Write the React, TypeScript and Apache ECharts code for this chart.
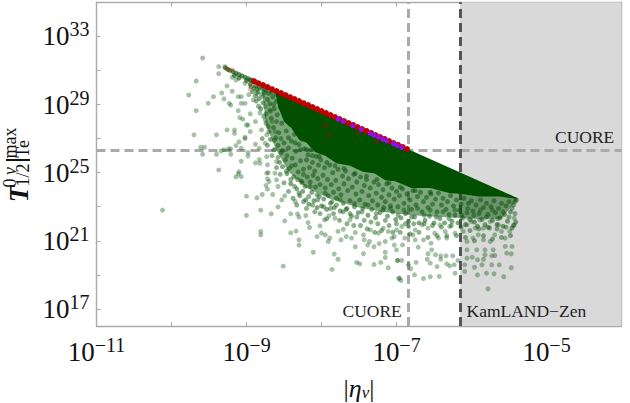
import React, { useEffect, useRef } from "react";
import * as echarts from "echarts";

const xTicks = [-11, -10, -9, -8, -7, -6, -5, -4];
const xLabels = [-11, -9, -7, -5];
const yTicks = [17, 19, 21, 23, 25, 27, 29, 31, 33, 35];
const yLabels = [17, 21, 25, 29, 33];
const cuoreEta = -6.853;
const kamlandEta = -6.153;
const cuoreHalfLife = 26.32;

const sparseDots = [
[-9.585,31.73],[-9.37,31.22],[-9.29,31.22],[-9.37,30.81],[-9.67,30.38],[-9.77,29.56],[-9.44,29.46],[-9.33,29.68],[-9.26,30.09],[-9.19,29.78],[-9.30,29.33],[-9.51,29.07],[-9.67,28.64],[-9.11,29.46],[-9.07,29.46],[-8.97,29.58],[-9.23,29.07],[-9.21,28.96],[-9.07,29.07],[-9.02,29.07],[-9.11,28.64],[-8.95,28.45],[-9.09,28.23],[-9.05,28.14],[-8.88,28.0],[-9.0,27.8],[-8.98,27.8],[-9.26,27.51],[-9.16,27.51],[-9.16,27.31],[-9.70,27.22],[-9.40,27.22],[-8.95,27.41],[-9.02,27.08],[-9.02,27.0],[-9.10,26.81],[-9.14,26.59],[-9.56,26.49],[-9.61,26.49],[-9.07,26.43],[-8.88,26.67],[-8.83,26.43],[-9.30,26.34],[-9.24,26.40],[-9.21,26.40],[-9.34,26.28],[-9.585,26.08],[-9.40,26.08],[-9.21,26.08],[-8.98,26.18],[-8.98,25.98],[-9.07,25.67],[-8.83,25.77],[-8.88,25.57],[-8.82,25.55],[-8.72,25.46],[-9.37,25.16],[-9.10,25.05],[-9.11,24.93],[-9.14,24.75],[-9.07,24.77],[-8.73,24.97],
[-9.14,30.44],[-9.19,30.6],[-9.02,30.25],[-8.95,30.44],[-8.82,30.05],[-8.86,29.66],[-8.78,29.46],[-8.91,29.27],[-8.75,28.88],[-8.82,28.5],[-8.69,28.68],[-8.75,28.1],[-8.66,28.0],[-8.80,27.51],[-8.73,27.22],[-8.62,27.41],[-8.75,26.73],[-8.64,26.34],[-8.73,25.94],[-8.60,25.65],
[-10.12,22.80],[-9.0,23.62],[-8.86,23.52],[-8.79,23.72],[-8.65,23.72],[-8.81,22.80],[-8.67,22.58],[-8.58,22.99],[-9.0,22.49],[-8.81,21.55],[-8.81,21.35],[-8.74,24.25],[-8.72,24.03],[-8.58,24.19],[-8.70,24.48],[-8.72,24.64],[-8.60,24.58],[-8.71,25.0],[-8.62,24.97],
[-8.51,19.51],[-8.53,23.40],[-8.49,23.64],[-8.49,22.17],[-8.41,22.58],[-8.32,22.58],[-8.30,22.39],[-8.21,22.48],[-8.35,23.31],[-8.18,22.07],[-8.16,21.78],[-8.41,21.47],[-8.34,21.57],[-8.30,21.06],[-8.30,20.75],[-8.11,20.33],[-8.06,21.25],[-8.02,21.88],[-8.0,21.45],[-7.95,21.35],[-7.96,22.23],[-7.89,21.16],[-7.91,20.96],[-7.90,22.47],[-7.83,20.22],[-7.78,19.92],[-7.86,19.32],[-7.78,21.55],[-7.74,21.06],[-7.67,21.25],[-7.60,21.16],[-7.55,20.65],[-7.44,20.24],[-7.53,19.73],[-7.49,19.65],[-7.30,19.61],[-7.21,19.73],[-7.11,19.42],[-7.15,20.02],[-7.15,20.33],[-7.30,20.65],[-7.385,20.75],[-7.43,21.06],[-7.36,20.96],[-7.23,20.84],[-7.15,20.96],[-7.03,20.75],[-6.99,19.85],[-6.96,18.81],[-7.03,21.25],[-7.11,21.55],[-7.24,21.45],[-7.44,21.35],[-7.55,21.49],[-7.62,22.23],[-7.71,21.68],[-7.82,22.33],[-7.35,21.64],[-7.176,21.74],[-7.0,21.64],[-7.06,21.16],
[-5.78,18.18],[-5.57,18.89],[-5.47,19.42],[-5.70,19.06],[-5.80,19.10],[-5.92,19.0],[-6.09,19.2],[-6.22,19.1],[-6.43,18.91],[-6.55,18.89],[-6.64,18.79],[-6.76,19.0],[-6.97,18.79],[-6.94,18.67],[-6.81,19.36],[-6.84,19.59],[-6.74,19.73],[-6.93,19.85],[-6.98,19.85],[-6.46,19.49],[-6.33,19.65],[-6.29,19.53],[-6.23,19.59],[-6.59,19.92],[-6.55,19.69],[-6.48,20.18],[-6.41,20.12],[-6.34,20.12],[-6.25,20.12],[-6.41,19.92],[-6.18,19.85],[-6.09,19.59],[-5.96,19.45],[-5.86,19.59],[-5.73,19.59],[-5.63,19.59],[-6.06,19.98],[-5.99,20.04],[-5.92,19.89],[-5.84,19.92],[-5.69,20.14],[-5.73,20.12],[-5.82,20.18],[-6.06,20.47],[-5.53,20.28],[-5.47,20.24],[-5.46,20.67],[-5.55,20.67],[-5.71,20.47],[-5.82,20.47],[-5.93,20.47],[-6.53,20.47],[-6.58,20.24],[-6.71,20.63],[-6.92,20.76],[-7.0,20.47],[-6.44,21.16],[-6.33,21.16],[-6.54,20.86],[-6.64,21.06],[-6.75,21.06],[-6.78,21.35],[-6.89,21.16],
[-5.43,22.33],[-5.43,21.94],[-5.49,21.55],[-5.55,21.16],[-5.6,21.55],[-5.64,21.94],[-5.69,21.35],[-5.75,20.96],[-5.84,21.06],[-5.91,21.35],[-5.95,21.74],[-5.84,21.74],[-5.75,22.13],[-5.89,22.23],[-6.0,22.13],[-5.98,21.16],[-6.06,20.96],[-6.11,21.55],[-6.06,21.94],[-6.22,21.45],[-6.29,21.84],[-6.35,21.55],[-6.42,21.94],[-6.49,21.45],[-6.58,21.74],[-6.66,21.94],[-6.75,21.64],[-6.84,21.84],[-6.93,21.84],
];

const bandDots = [
[-8.87,29.2],[-8.84,28.9],[-8.80,29.6],[-8.77,28.3],[-8.74,27.9],[-8.79,27.0],[-8.70,27.4],[-8.68,28.6],[-8.72,26.6],[-8.66,26.0],[-8.63,26.9],[-8.60,25.3],[-8.58,25.9],[-8.55,24.9],[-8.52,26.3],[-8.50,24.4],[-8.47,25.1],[-8.44,23.9],[-8.41,24.6],[-8.38,23.5],[-8.36,24.2],[-8.33,23.1],[-8.30,23.8],[-8.26,24.4],[-8.24,23.3],[-8.20,22.9],[-8.17,23.6],[-8.12,23.1],[-8.09,22.7],[-8.05,23.4],[-8.02,22.6],[-7.97,23.0],[-7.93,22.3],[-7.88,22.9],[-7.84,22.6],[-7.80,23.1],[-7.76,22.2],[-7.71,22.7],[-7.66,22.0],[-7.62,22.6],[-7.57,21.9],[-7.53,22.4],[-7.48,21.9],[-7.43,22.2],[-7.39,21.7],[-7.34,22.1],[-7.29,21.5],[-7.25,22.0],[-7.20,21.6],[-7.15,22.2],[-7.10,21.9],[-7.05,21.5],[-7.0,22.0],
[-6.95,21.5],[-6.88,22.0],[-6.82,21.4],[-6.77,22.0],[-6.70,21.5],[-6.63,22.0],[-6.58,21.2],[-6.52,21.9],[-6.46,21.3],[-6.40,21.8],[-6.33,21.3],[-6.27,21.9],[-6.20,21.3],[-6.14,21.8],[-6.08,21.2],[-6.02,21.6],[-5.96,21.0],[-5.9,21.7],[-5.84,21.3],[-5.78,21.8],[-5.72,21.1],[-5.66,21.7],[-5.60,21.2],[-5.54,21.8],[-5.48,21.3],[-5.44,21.9],
[-5.42,22.6],[-5.46,22.9],[-5.5,22.4],[-5.58,22.7],[-5.65,22.3],[-5.72,22.8],[-5.8,22.4],[-5.88,22.8],[-5.97,22.5],[-6.05,22.9],[-6.13,22.5],[-6.22,22.8],[-6.3,22.3],[-6.38,22.7],[-6.47,22.4],[-6.55,22.8],[-6.63,22.5],[-6.72,22.9],[-6.8,22.4],[-6.9,22.8],[-6.98,22.5],[-7.08,22.9],[-7.18,22.8],[-7.27,22.6],[-7.38,23.1],[-7.46,22.7],[-7.56,23.2],[-7.66,22.9],[-7.75,23.4],[-7.86,23.3],[-7.95,23.8],[-8.06,23.7],[-8.15,24.2],[-8.24,24.9],[-8.32,24.6],[-8.40,25.4],[-8.46,26.0],[-8.54,27.0],[-8.6,28.0],[-8.64,29.0],
];

const cloudDots = [
[-8.86,29.9],[-8.83,29.35],[-8.81,28.75],[-8.78,29.1],[-8.76,29.7],[-8.74,28.45],[-8.72,29.3],[-8.71,27.7],[-8.69,29.05],[-8.68,26.95],[-8.67,28.2],[-8.65,29.45],[-8.64,27.65],[-8.63,28.75],[-8.62,26.35],[-8.61,27.05],[-8.6,29.2],[-8.59,28.4],[-8.58,26.6],[-8.57,27.35],[-8.56,25.6],[-8.55,28.85],[-8.54,26.15],[-8.53,27.9],[-8.52,25.35],[-8.51,29.1],[-8.5,26.75],[-8.49,28.35],[-8.48,25.75],[-8.47,27.45],[-8.46,24.95],[-8.45,28.9],[-8.44,26.45],[-8.43,25.25],[-8.42,27.85],[-8.41,24.35],[-8.4,26.85],[-8.39,25.85],[-8.38,28.2],[-8.37,24.75],[-8.36,27.25],[-8.35,25.45],[-8.34,26.25],[-8.33,24.05],[-8.32,27.75],[-8.31,25.05],[-8.3,26.65],[-8.29,23.65],[-8.28,25.7],[-8.27,24.5],[-8.26,26.95],[-8.25,23.9],[-8.24,25.2],[-8.23,26.4],[-8.22,24.2],[-8.21,23.4],[-8.2,25.75],[-8.19,24.75],[-8.18,26.05],[-8.17,23.15],[-8.16,25.3],[-8.15,24.45],[-8.14,26.35],[-8.13,23.85],[-8.12,25.6],[-8.11,24.85],[-8.1,23.35],[-8.09,25.1],[-8.08,24.15],[-8.07,25.95],[-8.06,22.95],[-8.05,24.65],[-8.04,25.45],[-8.03,23.6],[-8.02,24.3],[-8.01,25.75],[-8.0,23.05],
[-7.98,24.85],[-7.97,23.45],[-7.96,25.3],[-7.95,24.1],[-7.93,22.85],[-7.92,24.6],[-7.91,23.65],[-7.89,25.45],[-7.88,23.2],[-7.87,24.3],[-7.85,25.0],[-7.84,23.85],[-7.83,22.95],[-7.81,24.55],[-7.8,23.5],[-7.78,25.2],[-7.77,24.05],[-7.75,22.75],[-7.74,23.7],[-7.72,24.8],[-7.71,23.2],[-7.7,24.35],[-7.68,25.1],[-7.67,22.85],[-7.65,23.95],[-7.64,24.65],[-7.62,23.35],[-7.6,22.45],[-7.59,24.15],[-7.57,24.9],[-7.56,23.0],[-7.54,23.75],[-7.53,24.45],[-7.51,22.65],[-7.49,23.4],[-7.48,24.75],[-7.46,23.9],[-7.45,22.9],[-7.43,24.25],[-7.42,23.15],[-7.4,24.6],[-7.38,22.5],[-7.37,23.65],[-7.35,24.1],[-7.33,22.85],[-7.32,23.35],[-7.3,24.45],[-7.28,22.35],[-7.27,23.8],[-7.25,23.1],[-7.24,24.3],[-7.22,22.65],[-7.2,23.55],[-7.18,24.0],[-7.17,22.95],[-7.15,23.3],[-7.13,24.35],[-7.12,22.45],[-7.1,23.7],[-7.08,23.05],[-7.06,24.1],[-7.05,22.7],[-7.03,23.45],[-7.01,22.25],[-7.0,23.9],
[-6.98,23.0],[-6.96,23.65],[-6.94,22.35],[-6.92,24.05],[-6.9,23.2],[-6.88,22.6],[-6.86,23.75],[-6.84,22.15],[-6.82,23.4],[-6.8,22.85],[-6.78,23.95],[-6.76,22.4],[-6.74,23.1],[-6.72,23.6],[-6.7,22.05],[-6.68,23.85],[-6.66,22.7],[-6.64,23.3],[-6.62,22.2],[-6.6,23.55],[-6.58,22.95],[-6.56,22.45],[-6.54,23.75],[-6.52,23.15],[-6.5,22.05],[-6.48,23.45],[-6.46,22.7],[-6.44,23.8],[-6.42,22.3],[-6.4,23.1],[-6.38,23.5],[-6.36,22.05],[-6.34,22.85],[-6.32,23.3],[-6.3,22.55],[-6.28,23.65],[-6.26,22.15],[-6.24,23.05],[-6.22,22.5],[-6.2,23.4],[-6.18,22.05],[-6.16,22.8],[-6.14,23.15],[-6.12,22.35],[-6.1,23.5],[-6.08,21.95],[-6.06,22.65],[-6.04,23.2],[-6.02,22.25],[-6.0,23.35],
[-5.98,22.75],[-5.96,22.1],[-5.94,23.1],[-5.92,21.85],[-5.9,22.6],[-5.88,23.4],[-5.86,22.25],[-5.84,22.95],[-5.82,21.95],[-5.8,23.2],[-5.78,22.55],[-5.76,21.75],[-5.74,23.0],[-5.72,22.2],[-5.7,23.35],[-5.68,22.65],[-5.66,21.95],[-5.64,22.9],[-5.62,22.35],[-5.6,23.2],[-5.58,21.85],[-5.56,22.55],[-5.54,23.05],[-5.52,22.15],[-5.5,23.3],[-5.48,22.7],[-5.46,21.75],[-5.44,23.1],[-5.42,23.3],[-5.41,22.1],[-5.4,23.4],
[-8.94,30.05],[-8.92,29.75],[-8.9,29.95],[-8.88,29.5],[-8.85,29.75],[-8.83,30.0],[-8.79,29.9],[-8.74,29.85],[-8.7,29.65],[-8.66,29.75],[-8.6,29.6],[-8.55,29.5],
[-8.44,27.05],[-8.35,26.75],[-8.28,26.35],[-8.2,26.35],[-8.12,26.0],[-8.03,25.95],[-7.93,25.6],[-7.82,25.4],[-7.7,25.25],[-7.55,24.95],[-7.4,24.8],[-7.26,24.6],[-7.1,24.4],[-6.95,24.15],[-6.75,23.95],[-6.55,23.85],
];

const crestDots = [
[-9.28,31.15],[-9.25,31.06],[-9.22,31.0],[-9.18,30.93],[-9.14,30.84],[-9.1,30.76],[-9.06,30.68],[-9.02,30.6],[-8.98,30.52],[-8.94,30.44],[-8.91,30.38],[-8.87,30.3],[-9.16,30.7],[-9.1,30.55],[-9.0,30.4],[-8.95,30.2],[-8.88,30.1],
];

const redBand = [
[-8.90,30.37],[-8.84,30.25],[-8.78,30.14],[-8.72,30.02],[-8.66,29.90],[-8.60,29.79],[-8.54,29.67],[-8.48,29.55],[-8.42,29.43],[-8.36,29.32],[-8.30,29.20],[-8.24,29.08],[-8.18,28.97],[-8.12,28.85],[-8.06,28.73],[-8.00,28.62],[-7.94,28.50],[-7.88,28.38],[-7.82,28.26],[-7.76,28.15],[-7.70,28.03],[-7.64,27.91],[-7.58,27.80],[-7.52,27.68],[-7.46,27.56],[-7.40,27.45],[-7.34,27.33],[-7.28,27.21],[-7.22,27.09],[-7.16,26.98],[-7.10,26.86],[-7.04,26.74],[-6.98,26.63],[-6.92,26.51],[-6.86,26.39],
];
const redFaint = [[-9.25,31.09],[-9.19,31.03],[-8.95,29.91]];
const redBuried = [[-7.95,27.75],[-7.90,27.22],[-7.50,27.34],[-7.26,26.81]];
const purpleDots = [
[-7.78,28.14],[-7.71,28.02],[-7.58,27.75],[-7.47,27.55],[-7.35,27.31],[-7.30,27.20],[-7.24,27.10],[-7.18,26.96],[-7.13,26.87],[-7.04,26.69],[-6.99,26.59],[-6.93,26.47],
];

const solidOutline = [
[-8.62,29.87],[-8.58,28.9],[-8.5,28.0],[-8.4,27.6],[-8.3,26.95],[-8.2,26.75],[-8.08,26.2],[-7.95,26.0],[-7.8,25.55],[-7.62,25.4],[-7.45,25.05],[-7.29,24.95],[-7.15,24.55],[-7.02,24.5],[-6.8,24.1],[-6.55,24.1],[-6.3,23.8],[-6.13,23.75],[-5.9,23.6],[-5.62,23.6],[-5.39,23.46],[-5.39,23.52],
];
const bandOutline = [
[-8.8,30.15],[-8.74,27.8],[-8.62,26.5],[-8.45,25.1],[-8.2,24.1],[-7.9,23.5],[-7.55,23.0],[-7.2,22.7],[-6.8,22.5],[-6.4,22.4],[-6.0,22.3],[-5.6,22.3],[-5.39,23.46],
];

const SERIF = "'Liberation Serif', 'Times New Roman', serif";
const GREEN = "#005000";

function polygonSeries(outline: number[][], opacity: number, z: number) {
  return {
    type: "custom",
    coordinateSystem: "cartesian2d",
    silent: true,
    z,
    data: [outline[0]],
    renderItem: (_: unknown, api: any) => ({
      type: "polygon",
      shape: { points: outline.map((p) => api.coord(p)) },
      style: { fill: GREEN, opacity },
    }),
  };
}

function dots(data: number[][], color: string, opacity: number, z: number, size = 5) {
  return {
    type: "scatter",
    data,
    symbol: "circle",
    symbolSize: size,
    silent: true,
    z,
    itemStyle: { color, opacity, borderWidth: 0 },
  };
}

const labelRich = {
  a: { fontFamily: SERIF, fontSize: 27, color: "#111", lineHeight: 28 },
  b: { fontFamily: SERIF, fontSize: 20, color: "#111", padding: [0, 0, 14, 0] },
};
const expText = (v: number) => `{a|10}{b|${String(v).replace("-", "\u2212")}}`;

const rot = Math.PI / 2;
const yName = (text: string, x: number, y: number, fontSize: number, fontStyle = "normal", fontWeight = "normal") => ({
  type: "text",
  x,
  y,
  z: 100,
  rotation: rot,
  style: { text, fontFamily: SERIF, fontSize, fontStyle, fontWeight, fill: "#111", textAlign: "center", textVerticalAlign: "middle" },
});
const note = (text: string, x: number, y: number) => ({
  type: "text",
  x,
  y,
  z: 100,
  style: { text, fontFamily: SERIF, fontSize: 17.5, fill: "#222", textAlign: "left", textVerticalAlign: "bottom" },
});

export default function App() {
  const ref = useRef<HTMLDivElement>(null);
  useEffect(() => {
    const chart = echarts.init(ref.current!, undefined, { renderer: "svg" });
    const frame = { show: true, onZero: false, lineStyle: { color: "#aaa", width: 1.4 } };
    const tick = { show: true, inside: true, length: 4, lineStyle: { color: "#aaa", width: 1 } };
    const common = { type: "value", splitLine: { show: false }, minorTick: { show: false } };
    const dash = [9, 5];
    chart.setOption({
      animation: false,
      backgroundColor: "#fff",
      grid: { left: 96.5, right: 8.5, top: 2.3, bottom: 77 },
      xAxis: [
        {
          ...common, min: -11, max: -4, interval: 1, position: "bottom", axisLine: frame,
          axisTick: { ...tick, customValues: xTicks },
          axisLabel: { customValues: xLabels, margin: 9, hideOverlap: false, formatter: expText, rich: labelRich },
        },
        {
          ...common, min: -11, max: -4, interval: 1, position: "top", axisLine: frame,
          axisTick: { ...tick, customValues: xTicks }, axisLabel: { show: false },
        },
      ],
      yAxis: [
        {
          ...common, min: 16, max: 35, interval: 1, position: "left", axisLine: frame,
          axisTick: { ...tick, customValues: yTicks },
          axisLabel: { customValues: yLabels, margin: 7, hideOverlap: false, formatter: expText, rich: labelRich },
        },
        {
          ...common, min: 16, max: 35, interval: 1, position: "right", axisLine: frame,
          axisTick: { ...tick, customValues: yTicks }, axisLabel: { show: false },
        },
      ],
      series: [
        {
          type: "line",
          data: [],
          z: 1,
          silent: true,
          markArea: {
            z: 1,
            silent: true,
            itemStyle: { color: "#d9d9d9" },
            data: [[{ xAxis: kamlandEta }, { xAxis: -4 }]],
          },
          markLine: {
            z: 1,
            silent: true,
            symbol: "none",
            label: { show: false },
            data: [
              { yAxis: cuoreHalfLife, lineStyle: { color: "#aaa", width: 3, type: dash } },
              { xAxis: cuoreEta, lineStyle: { color: "#aaa", width: 3, type: dash } },
              { xAxis: kamlandEta, lineStyle: { color: "#555", width: 3, type: dash } },
            ],
          },
        },
        polygonSeries(bandOutline, 0.5, 2),
        polygonSeries(solidOutline, 1, 3),
        dots(sparseDots, GREEN, 0.35, 4),
        dots(bandDots, GREEN, 0.45, 4),
        dots(cloudDots, GREEN, 0.5, 4),
        dots(crestDots, GREEN, 0.6, 4),
        dots(redBand, "#c00000", 1, 5, 6),
        dots(redFaint, "#d02020", 0.3, 5),
        dots(redBuried, "#7a1a00", 0.6, 5),
        dots(purpleDots, "#8a10f0", 1, 6),
      ],
      graphic: [
        note("CUORE", 555, 146),
        note("CUORE", 342.5, 320),
        note("KamLAND\u2212Zen", 466.5, 320),
        yName("T", 19, 194, 27, "italic", "bold"),
        yName("0", 10, 183, 18),
        yName("\u03BD", 10, 171, 18, "italic"),
        yName("max", 10, 143, 18),
        yName("1/2", 23, 175, 18),
        yName("Te", 23, 149, 18),
        { type: "rect", z: 100, shape: { x: 6, y: 159, width: 24, height: 2 }, style: { fill: "#111" } },
        {
          type: "text",
          x: 359,
          y: 388,
          z: 100,
          style: {
            text: "{a||}{b|\u03B7}{c|\u03BD}{a||}",
            textAlign: "center",
            textVerticalAlign: "middle",
            rich: {
              a: { fontFamily: SERIF, fontSize: 26, fill: "#111", color: "#111" },
              b: { fontFamily: SERIF, fontSize: 26, fontStyle: "italic", fill: "#111", color: "#111" },
              c: { fontFamily: SERIF, fontSize: 17, fontStyle: "italic", fill: "#111", color: "#111", padding: [8, 0, 0, 0] },
            },
          },
        },
      ],
    });
    return () => chart.dispose();
  }, []);
  return <div ref={ref} style={{ position: "absolute", left: 0, top: 0, width: 630, height: 403 }} />;
}
